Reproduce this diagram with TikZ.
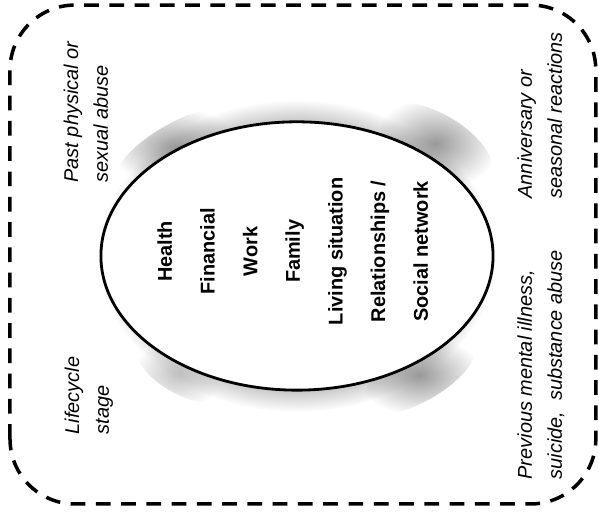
\documentclass[tikz,border=0pt]{standalone}
\usepackage{fontspec}
\setmainfont{Liberation Sans}
\usetikzlibrary{positioning, fadings}

% soft grey halo round the ellipse
\pgfdeclareradialshading{halomask}{\pgfpointorigin}{color(0bp)=(white); color(25bp)=(black); color(50bp)=(black)}
\pgfdeclarefading{halo}{\pgfuseshading{halomask}}
\pgfdeclareradialshading{rimmask}{\pgfpointorigin}{color(0bp)=(white); color(21bp)=(white); color(25bp)=(black); color(50bp)=(black)}
\pgfdeclarefading{rim}{\pgfuseshading{rimmask}}

\begin{document}
\begin{tikzpicture}[thick,
    factor/.style = {rotate=90, anchor=base, inner sep=0pt, font=\fontsize{14.2}{17}\selectfont\bfseries},
    risk/.style = {rotate=90, anchor=north west, align=left, inner sep=0pt, font=\fontsize{14.2}{21.3}\selectfont\itshape},
    smudge/.style = {fill=black!40, path fading=halo},
    frame/.style = {line width=2.5pt, dash pattern=on 10.5pt off 7.5pt, rounded corners=1.63cm}]

      \useasboundingbox (0,0) rectangle (15,12.896);

      % Outer frame
      \draw[frame] (0.25,0.276) rectangle (14.92,12.77);

      % Halo
      \fill[black!25, path fading=rim] (7.437,6.486) ellipse [x radius=4.96, y radius=3.9];
      \fill[smudge] (4.4,9.2) ellipse [x radius=1.7, y radius=0.6, rotate=30];
      \fill[smudge] (10.9,9.3) ellipse [x radius=1.6, y radius=0.75, rotate=-30];
      \fill[smudge] (10.5,3.5) ellipse [x radius=1.6, y radius=0.65, rotate=30];
      \fill[smudge, fill=black!25] (4.5,3.55) ellipse [x radius=1.2, y radius=0.5, rotate=-30];

      % Ellipse
      \draw[line width=2pt, fill=white] (7.437,6.486) ellipse [x radius=4.91, y radius=3.36];

      % Nodes
      \foreach \txt [count=\i] in {Health, Financial, Work, Family, Living situation, Relationships /, Social network}
        \node[factor] (f\i) at ({4.307+1.068*(\i-1)},6.6) {\txt};

      \node[risk] (past) at (1.578,8.314) {Past physical or\\sexual abuse};
      \node[risk] (anniv) at (12.946,7.913) {Anniversary or\\seasonal reactions};
      \node[risk] (life) at (1.603,2.004) {Lifecycle\\stage};
      \node[risk] (prev) at (12.946,0.877) {Previous mental illness,\\suicide,\ \ substance abuse};

    \end{tikzpicture}
\end{document}
